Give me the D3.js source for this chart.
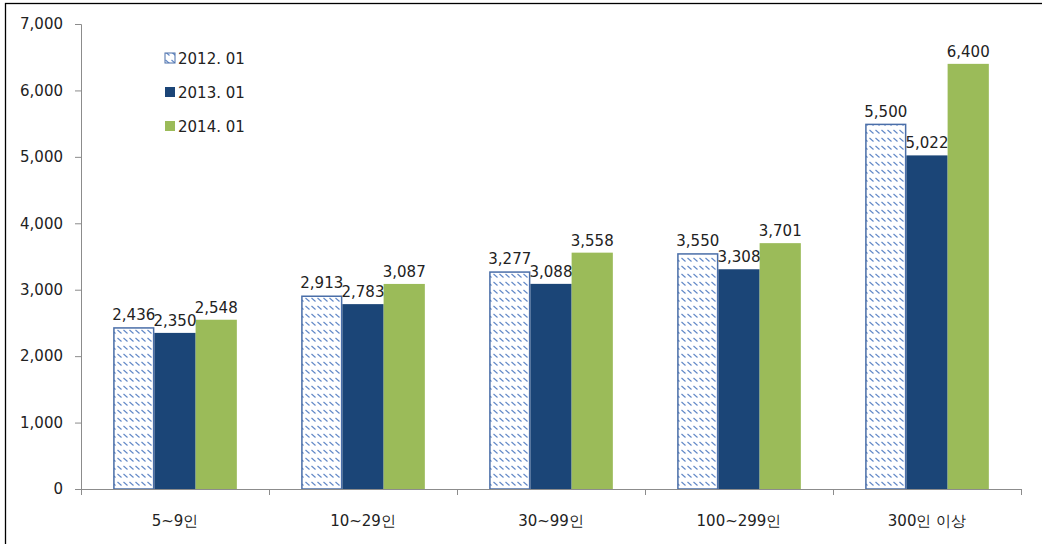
<!DOCTYPE html>
<html>
<head>
<meta charset="utf-8">
<script src="https://cdn.jsdelivr.net/npm/d3@7"></script>
<style>
body{margin:0;background:#fff;}
text{font-family:"DejaVu Sans",Verdana,sans-serif;}
</style>
</head>
<body>
<div class="box"></div>
<script>
const categories=['5~9인','10~29인','30~99인','100~299인','300인 이상'];
const seriesNames=['2012. 01','2013. 01','2014. 01'];
const v2012=[2436,2913,3277,3550,5500];
const v2013=[2350,2783,3088,3308,5022];
const v2014=[2548,3087,3558,3701,6400];
const yTicks=[0,1000,2000,3000,4000,5000,6000,7000];

const W=1042,H=544;
const margin={top:24,right:21,bottom:55,left:81};
const graphW=W-margin.left-margin.right;
const graphH=H-margin.top-margin.bottom;

const svg=d3.select('.box').append('svg').attr('width',W).attr('height',H).style('display','block');

const defs=svg.append('defs');
const pat=defs.append('pattern').attr('id','hatch').attr('patternUnits','userSpaceOnUse')
  .attr('width',6).attr('height',8);
pat.append('rect').attr('width',6).attr('height',8).attr('fill','#fff');
pat.append('line').attr('x1',0.5).attr('y1',2).attr('x2',4.5).attr('y2',5.5)
  .attr('stroke','#5f86c6').attr('stroke-width',1.1);

// outer frame
svg.append('rect').attr('x',5.5).attr('y',3.5).attr('width',1060).attr('height',560)
  .attr('fill','none').attr('stroke','#000').attr('stroke-width',1.3);

const g=svg.append('g').attr('transform',`translate(${margin.left},${margin.top})`);

const x=d3.scaleBand().domain(categories).range([0,graphW]).paddingInner(0).paddingOuter(0);
const xs=d3.scaleBand().domain(seriesNames).range([0,x.bandwidth()]).paddingOuter(0.78).paddingInner(0);
const y=d3.scaleLinear().domain([0,7000]).range([graphH,0]);

const rows=categories.map((c,i)=>({cat:c,vals:[v2012[i],v2013[i],v2014[i]]}));
const fills=['url(#hatch)','#1b4577','#9bbb59'];

const grp=g.selectAll('g.grp').data(rows).enter().append('g').attr('class','grp')
  .attr('transform',d=>`translate(${x(d.cat)},0)`);

grp.selectAll('rect').data(d=>d.vals.map((v,k)=>({s:seriesNames[k],v,k}))).enter().append('rect')
  .attr('x',d=>xs(d.s)+(d.k==0?0.75:0))
  .attr('y',d=>y(d.v)+(d.k==0?0.75:0))
  .attr('width',d=>xs.bandwidth()-(d.k==0?1.5:0))
  .attr('height',d=>graphH-y(d.v)-(d.k==0?0.75:0))
  .attr('fill',d=>fills[d.k])
  .attr('stroke',d=>d.k==0?'#4a6ea8':'none')
  .attr('stroke-width',1.5);

grp.selectAll('text.lbl').data(d=>d.vals.map((v,k)=>({s:seriesNames[k],v,k}))).enter().append('text')
  .attr('class','lbl')
  .attr('x',d=>xs(d.s)+xs.bandwidth()/2)
  .attr('y',d=>y(d.v)-7)
  .attr('text-anchor','middle')
  .attr('font-size',15)
  .attr('fill','#222')
  .text(d=>d3.format(',')(d.v));

// axes
const axeY=d3.axisLeft(y).tickValues(yTicks).tickFormat(d3.format(',')).tickSize(6).tickPadding(12);
const gY=g.append('g').call(axeY);
gY.select('.domain').attr('stroke','#8c8c8c').attr('d',`M-6,0.5H0.5V${graphH}`);
gY.selectAll('.tick line').attr('stroke','#8c8c8c');
gY.selectAll('.tick text').attr('font-size',15).attr('fill','#222').attr('font-family','"DejaVu Sans",Verdana,sans-serif');

const gX=g.append('g').attr('transform',`translate(0,${graphH})`);
gX.append('line').attr('x1',0).attr('x2',graphW).attr('y1',0.5).attr('y2',0.5).attr('stroke','#8c8c8c');
const bounds=categories.map(c=>x(c)).concat([graphW]);
gX.selectAll('line.tk').data(bounds).enter().append('line').attr('class','tk')
  .attr('x1',d=>d+0.5).attr('x2',d=>d+0.5).attr('y1',0).attr('y2',6).attr('stroke','#8c8c8c');
gX.selectAll('text').data(categories).enter().append('text')
  .attr('x',d=>x(d)+x.bandwidth()/2).attr('y',37)
  .attr('text-anchor','middle').attr('font-size',15).attr('fill','#222')
  .text(d=>d);

// legend
const leg=svg.append('g').attr('transform','translate(165,58)');
const li=leg.selectAll('g').data(seriesNames).enter().append('g')
  .attr('transform',(d,i)=>`translate(0,${i*34})`);
li.append('rect').attr('x',0).attr('y',-5).attr('width',10).attr('height',10)
  .attr('fill',(d,i)=>fills[i]).attr('stroke',(d,i)=>i==0?'#4a6ea8':'none').attr('stroke-width',1);
li.append('text').attr('x',13).attr('y',5.5).attr('font-size',15).attr('fill','#222').text(d=>d);
</script>
</body>
</html>
